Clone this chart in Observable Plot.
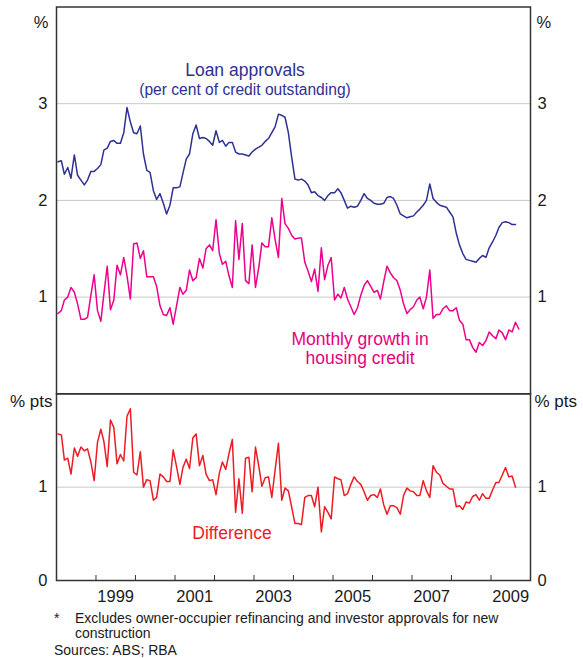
<!DOCTYPE html>
<html><head><meta charset="utf-8">
<script src="https://cdn.jsdelivr.net/npm/d3@7"></script>
<script src="https://cdn.jsdelivr.net/npm/@observablehq/plot@0.6"></script>
<style>
body{margin:0;background:#fff;font-family:"Liberation Sans",Arial,sans-serif;}
#wrap{position:relative;width:583px;height:658px;overflow:hidden;background:#fff;}
#top,#bot{position:absolute;left:0;}
#top{top:0}
#bot{top:380px}
.note{position:absolute;font-size:14px;color:#1a1a1a;line-height:14px;white-space:nowrap;}
</style></head><body>
<div id="wrap">
<div id="top"></div><div id="bot"></div>
<div class="note" style="left:54px;top:611px">*</div>
<div class="note" style="left:75px;top:611px">Excludes owner-occupier refinancing and investor approvals for new</div>
<div class="note" style="left:75px;top:626px">construction</div>
<div class="note" style="left:54px;top:643px">Sources: ABS; RBA</div>
</div>
<script>
const startYear = 1998;
const loanApprovals = [2.40,2.41,2.27,2.34,2.23,2.47,2.26,2.21,2.16,2.21,2.30,2.30,
2.33,2.37,2.52,2.54,2.61,2.62,2.59,2.59,2.70,2.96,2.81,2.70,
2.69,2.77,2.48,2.31,2.29,2.10,2.01,2.07,1.97,1.86,1.95,2.13,
2.13,2.14,2.28,2.43,2.48,2.69,2.78,2.64,2.65,2.64,2.61,2.57,
2.72,2.60,2.62,2.56,2.60,2.60,2.50,2.48,2.48,2.47,2.46,2.50,
2.53,2.55,2.57,2.61,2.64,2.70,2.76,2.89,2.88,2.86,2.70,2.45,
2.22,2.21,2.22,2.20,2.16,2.08,2.09,2.05,2.03,2.00,2.05,2.08,
2.08,2.12,2.08,2.00,1.92,1.94,1.93,1.94,2.00,2.07,2.02,2.00,
1.97,1.96,1.96,1.97,2.03,2.04,2.02,1.95,1.86,1.84,1.82,1.83,
1.84,1.88,1.91,1.95,2.00,2.17,2.02,1.98,1.95,1.94,1.93,1.88,
1.83,1.66,1.54,1.45,1.39,1.38,1.37,1.36,1.40,1.43,1.41,1.51,
1.57,1.64,1.72,1.77,1.78,1.77,1.75,1.75];
const housingCredit = [0.83,0.86,0.97,1.00,1.10,1.05,0.93,0.77,0.77,0.79,1.02,1.23,
0.86,0.75,1.03,1.32,0.87,0.97,1.33,1.23,1.41,1.22,0.98,1.55,
1.56,1.40,1.48,1.21,1.21,1.21,1.11,0.91,0.82,0.81,0.89,0.72,
0.91,1.10,1.03,1.07,1.28,1.17,1.20,1.40,1.30,1.50,1.54,1.48,
1.80,1.45,1.34,1.37,1.22,1.10,1.79,1.39,1.76,1.17,1.14,1.54,
1.10,1.31,1.56,1.52,1.52,1.82,1.60,1.41,2.02,1.76,1.71,1.64,
1.60,1.61,1.61,1.36,1.27,1.16,1.29,1.06,1.51,1.18,1.33,1.41,
0.97,1.03,0.99,1.10,0.98,0.90,0.82,0.89,1.02,1.12,1.17,1.11,
1.05,1.07,0.98,1.16,1.32,1.25,1.20,1.17,1.07,0.93,0.83,0.87,
0.90,0.97,1.00,0.88,1.00,1.28,0.78,0.82,0.82,0.88,0.91,0.86,
0.86,0.89,0.76,0.72,0.56,0.56,0.48,0.43,0.53,0.50,0.55,0.64,
0.60,0.57,0.66,0.63,0.56,0.66,0.64,0.74,0.67];
const difference = [1.57,1.56,1.29,1.31,1.14,1.42,1.33,1.43,1.39,1.41,1.27,1.07,
1.48,1.62,1.49,1.22,1.72,1.64,1.25,1.35,1.28,1.76,1.84,1.16,
1.13,1.38,1.00,1.08,1.07,0.86,0.89,1.14,1.11,1.06,1.06,1.40,
1.22,1.03,1.21,1.30,1.20,1.53,1.57,1.23,1.34,1.14,1.07,1.08,
0.92,1.15,1.27,1.19,1.36,1.51,0.73,1.09,0.72,1.31,1.32,0.95,
1.43,1.22,1.01,1.10,1.11,0.89,1.18,1.47,0.86,0.99,0.96,0.79,
0.61,0.61,0.60,0.89,0.91,0.91,0.79,1.00,0.52,0.79,0.73,0.66,
1.11,1.09,1.08,0.91,0.93,1.03,1.11,1.06,1.03,0.95,0.86,0.91,
0.92,0.89,0.98,0.81,0.71,0.80,0.80,0.78,0.71,0.91,0.99,0.96,
0.95,0.91,0.91,1.07,0.96,0.89,1.23,1.16,1.13,1.04,1.01,0.98,
0.98,0.79,0.80,0.76,0.84,0.83,0.90,0.92,0.86,0.93,0.88,0.88,
0.97,1.05,1.05,1.13,1.21,1.11,1.12,1.00];
const yearTicks = [1999,2000,2001,2002,2003,2004,2005,2006,2007,2008,2009];
const yearLabels = [1999,2001,2003,2005,2007,2009];
const topTicks = [1,2,3];
const bottomTicks = [0,1];
const topLabels = [
  {text:"Loan approvals", date:[2002,9,10], value:3.34, size:17.5, color:"#2e3192"},
  {text:"(per cent of credit outstanding)", date:[2002,9,10], value:3.14, size:15.6, color:"#2e3192"},
  {text:"Monthly growth in", date:[2005,8,8], value:0.56, size:17.5, color:"#e6007e"},
  {text:"housing credit", date:[2005,8,8], value:0.37, size:17.5, color:"#e6007e"}
];
const bottomLabels = [
  {text:"Difference", date:[2002,5,12], value:0.50, size:17.5, color:"#ed1c24"}
];

const month = i => new Date(Date.UTC(startYear, i, 15));
const rows = arr => arr.map((v, i) => ({date: month(i), value: v}));
const ymd = a => new Date(Date.UTC(a[0], a[1], a[2]));
const xDomain = [new Date(Date.UTC(1998,0,1)), new Date(Date.UTC(2010,0,1))];
const font = "'Liberation Sans', Arial, sans-serif";
const frameColor = "#333333";
const gridColor = "#c8c8c8";
const tickFont = 16.5;

function labelMarks(list) {
  return list.map(l => Plot.text([l], {x: d => ymd(d.date), y: "value", text: "text",
    fill: l.color, fontSize: l.size, textAnchor: "middle", lineAnchor: "middle"}));
}

const topChart = Plot.plot({
  width: 583, height: 394,
  marginLeft: 56, marginRight: 53, marginTop: 6.5, marginBottom: 0.7,
  style: {fontFamily: font, fontSize: "16px", color: "#1a1a1a", background: "transparent", overflow: "visible"},
  x: {type: "utc", domain: xDomain, axis: null},
  y: {domain: [0, 4], axis: null, label: null},
  marks: [
    Plot.ruleY(topTicks, {stroke: gridColor, strokeWidth: 1}),
    Plot.line(rows(loanApprovals), {x: "date", y: "value", stroke: "#2e3192", strokeWidth: 1.5}),
    Plot.line(rows(housingCredit), {x: "date", y: "value", stroke: "#ec008c", strokeWidth: 1.5}),
    Plot.frame({stroke: frameColor, strokeWidth: 1.5}),
    Plot.axisY(topTicks, {anchor: "left", tickSize: 0, tickPadding: 9, label: null, fontSize: tickFont, tickFormat: d => String(d)}),
    Plot.axisY(topTicks, {anchor: "right", tickSize: 0, tickPadding: 7, label: null, fontSize: tickFont, tickFormat: d => String(d)}),
    Plot.text(["%"], {text: d => d, frameAnchor: "top-left", dx: -8, dy: 9, textAnchor: "end", fontSize: tickFont}),
    Plot.text(["%"], {text: d => d, frameAnchor: "top-right", dx: 6, dy: 9, textAnchor: "start", fontSize: tickFont}),
    ...labelMarks(topLabels)
  ]
});
document.getElementById("top").appendChild(topChart);

const bottomChart = Plot.plot({
  width: 583, height: 278,
  marginLeft: 56, marginRight: 53, marginTop: 13.3, marginBottom: 78,
  style: {fontFamily: font, fontSize: "16px", color: "#1a1a1a", background: "transparent", overflow: "visible"},
  x: {type: "utc", domain: xDomain, axis: null},
  y: {domain: [0, 2], axis: null, label: null},
  marks: [
    Plot.ruleY([1], {stroke: gridColor, strokeWidth: 1}),
    Plot.line(rows(difference), {x: "date", y: "value", stroke: "#ed1c24", strokeWidth: 1.5}),
    Plot.frame({stroke: frameColor, strokeWidth: 1.5}),
    Plot.axisY(bottomTicks, {anchor: "left", tickSize: 0, tickPadding: 9, label: null, fontSize: tickFont, tickFormat: d => String(d)}),
    Plot.axisY(bottomTicks, {anchor: "right", tickSize: 0, tickPadding: 7, label: null, fontSize: tickFont, tickFormat: d => String(d)}),
    Plot.text(["% pts"], {text: d => d, frameAnchor: "top-left", dx: -4, dy: 1.5, textAnchor: "end", fontSize: 17}),
    Plot.text(["% pts"], {text: d => d, frameAnchor: "top-right", dx: 4, dy: 1.5, textAnchor: "start", fontSize: 17}),
    Plot.axisX(yearTicks.map(y => new Date(Date.UTC(y,0,1))), {anchor: "bottom", tickSize: -5, tickFormat: () => "", label: null, stroke: frameColor}),
    Plot.axisX(yearLabels.map(y => new Date(Date.UTC(y,6,2))), {anchor: "bottom", tickSize: 0, tickPadding: 9.5, tickFormat: d => String(d.getUTCFullYear()), label: null, fontSize: tickFont}),
    ...labelMarks(bottomLabels)
  ]
});
document.getElementById("bot").appendChild(bottomChart);
</script>
</body></html>
